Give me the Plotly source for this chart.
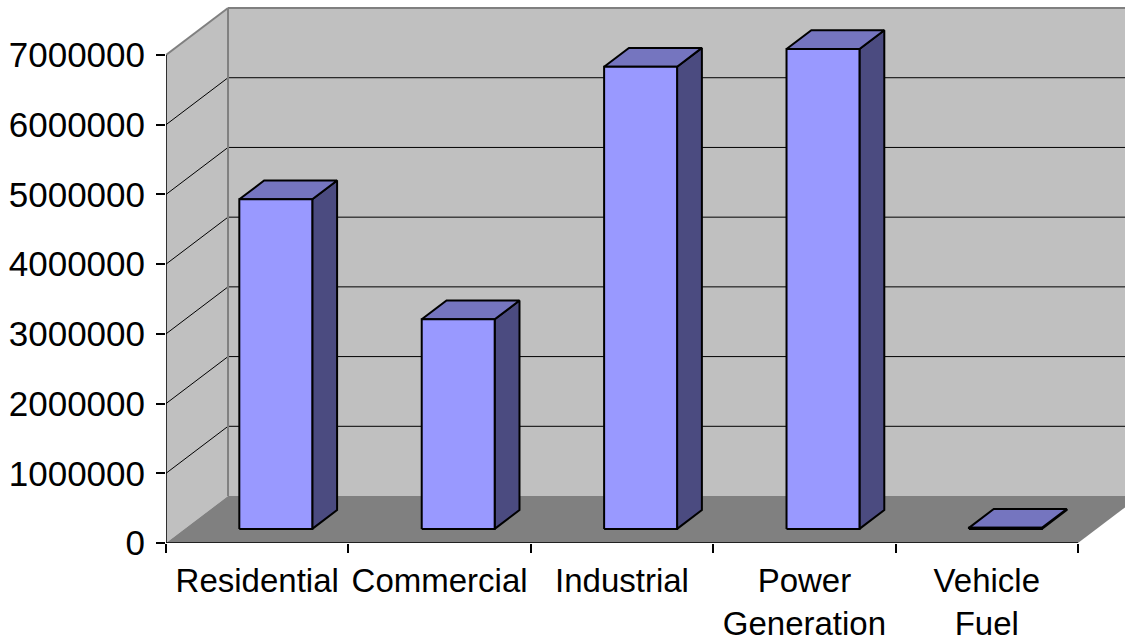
import plotly.graph_objects as go

# Data
categories = ["Residential", "Commercial", "Industrial", "Power<br>Generation", "Vehicle<br>Fuel"]
values = [4728000, 3007000, 6630000, 6884000, 15000]
y_ticks = [0, 1000000, 2000000, 3000000, 4000000, 5000000, 6000000, 7000000]
y_tick_labels = [str(v) for v in y_ticks]

# Oblique 3-D projection: depth axis drawn up and to the right
DEPTH_X = 0.34        # horizontal shift of the full depth, in category units
DEPTH_Y = 674000      # vertical shift of the full depth, in value units
BAR_WIDTH = 0.4
BAR_D0, BAR_D1 = 0.3, 0.7   # bar front/back position along the depth
Y_MAX = 7000000
N = len(categories)

FONT = "Arial, Liberation Sans, sans-serif"


def proj(x, y, d):
    return x + d * DEPTH_X, y + d * DEPTH_Y


def poly(points, fill, line_color, line_width):
    xs, ys = zip(*points)
    return go.Scatter(x=list(xs) + [xs[0]], y=list(ys) + [ys[0]], mode="lines",
                      fill="toself", fillcolor=fill,
                      line=dict(color=line_color, width=line_width),
                      hoverinfo="skip", showlegend=False)


def lines(segments, color, width):
    xs, ys = [], []
    for (a, b) in segments:
        xs += [a[0], b[0], None]
        ys += [a[1], b[1], None]
    return go.Scatter(x=xs, y=ys, mode="lines", line=dict(color=color, width=width),
                      hoverinfo="skip", showlegend=False)


fig = go.Figure()

X_END = N + 1.0  # back wall runs past the right edge

# back wall
fig.add_trace(poly([proj(0, 0, 1), proj(X_END, 0, 1), proj(X_END, Y_MAX, 1), proj(0, Y_MAX, 1)],
                   "#C0C0C0", "#C0C0C0", 0))
# side wall
fig.add_trace(poly([proj(0, 0, 0), proj(0, 0, 1), proj(0, Y_MAX, 1), proj(0, Y_MAX, 0)],
                   "#C0C0C0", "#C0C0C0", 0))
# floor
fig.add_trace(poly([proj(0, 0, 0), proj(N, 0, 0), proj(N, 0, 1), proj(0, 0, 1)],
                   "#808080", "#808080", 0))

# gridlines on both walls
grid = []
for t in y_ticks[1:-1]:
    grid.append((proj(0, t, 0), proj(0, t, 1)))
    grid.append((proj(0, t, 1), proj(X_END, t, 1)))
fig.add_trace(lines(grid, "black", 1))

# wall borders
border = [
    (proj(0, 0, 1), proj(0, Y_MAX, 1)),
    (proj(0, Y_MAX, 0), proj(0, Y_MAX, 1)),
    (proj(0, Y_MAX, 1), proj(X_END, Y_MAX, 1)),
]
fig.add_trace(lines(border, "#808080", 2))

# value axis line and front edge of the floor (category axis line)
fig.add_trace(lines([(proj(0, 0, 0), proj(0, Y_MAX, 0)),
                     (proj(0, 0, 0), proj(N, 0, 0))], "black", 1.5))

# bars
for i, v in enumerate(values):
    x0 = i + 0.5 - BAR_WIDTH / 2
    x1 = i + 0.5 + BAR_WIDTH / 2
    side = [proj(x1, 0, BAR_D0), proj(x1, 0, BAR_D1), proj(x1, v, BAR_D1), proj(x1, v, BAR_D0)]
    top = [proj(x0, v, BAR_D0), proj(x1, v, BAR_D0), proj(x1, v, BAR_D1), proj(x0, v, BAR_D1)]
    front = [proj(x0, 0, BAR_D0), proj(x1, 0, BAR_D0), proj(x1, v, BAR_D0), proj(x0, v, BAR_D0)]
    fig.add_trace(poly(side, "#4B4B80", "black", 2))
    fig.add_trace(poly(top, "#7575BF", "black", 2))
    fig.add_trace(poly(front, "#9999FF", "black", 2))

W, H = 1125, 642
L, B = 166, 99
px_per_cat = 182.4
px_per_val = (543 - 55) / 7 / 1e6

fig.update_layout(
    width=W, height=H,
    margin=dict(l=L, r=0, t=0, b=B, pad=0),
    paper_bgcolor="white", plot_bgcolor="white",
    font=dict(family=FONT, color="black"),
    xaxis=dict(
        range=[0, (W - L) / px_per_cat],
        tickvals=[i + 0.5 for i in range(N)], ticktext=categories,
        ticks="", showgrid=False, zeroline=False, showline=False,
        tickfont=dict(size=33, family=FONT, color="black"),
        ticklabelstandoff=15,
        minor=dict(tickvals=list(range(N + 1)), ticks="outside", ticklen=9,
                   tickcolor="black", tickwidth=1.5, showgrid=False),
        fixedrange=True,
    ),
    yaxis=dict(
        range=[0, (H - B) / px_per_val],
        tickvals=y_ticks, ticktext=y_tick_labels,
        ticks="outside", ticklen=9, tickcolor="black", tickwidth=1.5,
        showline=False,
        showgrid=False, zeroline=False,
        tickfont=dict(size=35, family=FONT, color="black"),
        ticklabelstandoff=4,
        fixedrange=True,
    ),
)

fig.write_html("out.html")
